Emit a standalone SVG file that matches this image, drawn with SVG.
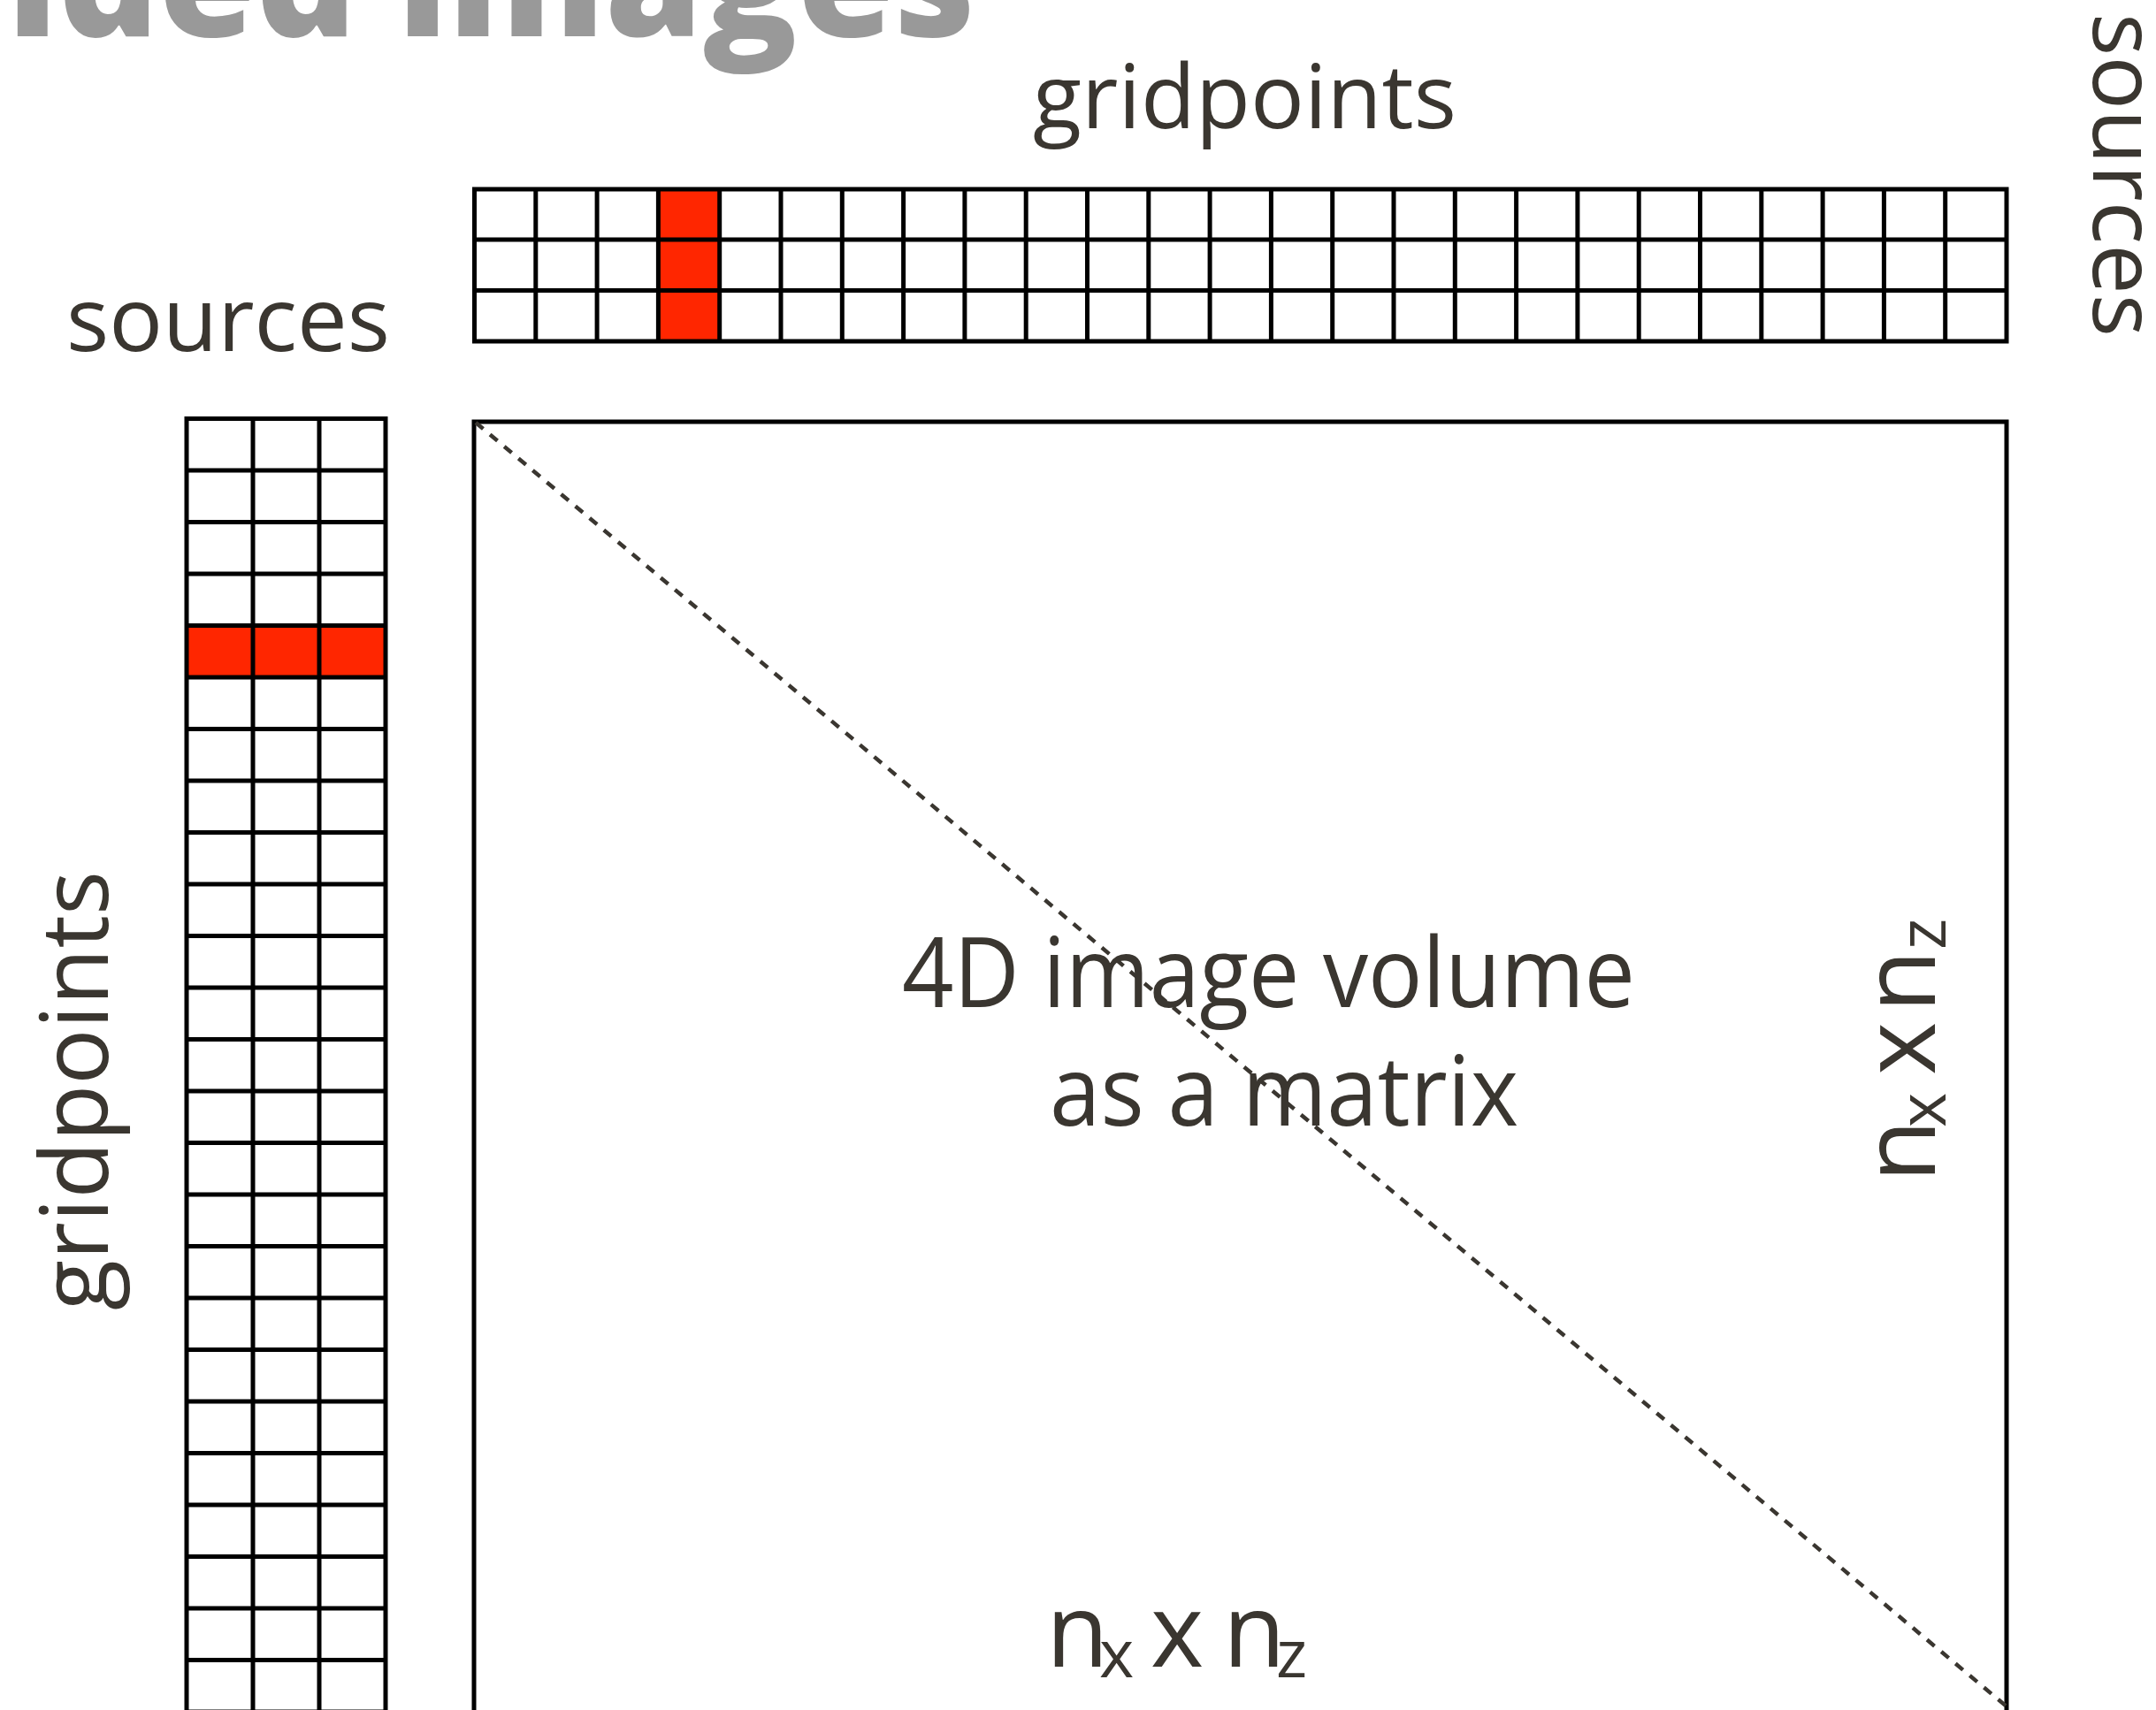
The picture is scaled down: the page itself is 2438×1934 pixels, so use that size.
<svg xmlns="http://www.w3.org/2000/svg" width="2438" height="1934" viewBox="0 0 2438 1934">
<style>
.t{font-family:"Open Sans","Noto Sans","DejaVu Sans",sans-serif;fill:#3a3630}
.title{font-family:"Open Sans","Noto Sans",sans-serif;font-weight:800;fill:#999999}
.grid{fill:none;stroke:#000;stroke-width:5}
.red{fill:#ff2600}
.diag{fill:none;stroke:#3a3630;stroke-width:4.5;stroke-dasharray:11 10}
</style>
<rect x="0" y="0" width="2438" height="1934" fill="#ffffff"/>
<g id="title">
<text class="title" x="8" y="41" font-size="180" textLength="1095" lengthAdjust="spacingAndGlyphs">ided images</text>
</g>
<g id="top-grid">
<rect class="red" x="744.4" y="214" width="69.3" height="172"/>
<path class="grid" d="M536.5 214H2269V386H536.5Z M536.5 271H2269 M536.5 328.5H2269 M605.8 214V386 M675.1 214V386 M744.4 214V386 M813.7 214V386 M883 214V386 M952.3 214V386 M1021.6 214V386 M1090.9 214V386 M1160.2 214V386 M1229.5 214V386 M1298.8 214V386 M1368.1 214V386 M1437.4 214V386 M1506.7 214V386 M1576 214V386 M1645.3 214V386 M1714.6 214V386 M1783.9 214V386 M1853.2 214V386 M1922.5 214V386 M1991.8 214V386 M2061.1 214V386 M2130.4 214V386 M2199.7 214V386"/>
</g>
<g id="left-grid">
<rect class="red" x="211" y="707.6" width="225" height="58.5"/>
<path class="grid" d="M211 473.6V1940 M286 473.6V1940 M361 473.6V1940 M436 473.6V1940 M208.5 473.6H438.5 M211 532.1H436 M211 590.6H436 M211 649.1H436 M211 707.6H436 M211 766.1H436 M211 824.6H436 M211 883.1H436 M211 941.6H436 M211 1000.1H436 M211 1058.6H436 M211 1117.1H436 M211 1175.6H436 M211 1234.1H436 M211 1292.6H436 M211 1351.1H436 M211 1409.6H436 M211 1468.1H436 M211 1526.6H436 M211 1585.1H436 M211 1643.6H436 M211 1702.1H436 M211 1760.6H436 M211 1819.1H436 M211 1877.6H436 M211 1936.1H436"/>
</g>
<g id="matrix">
<path class="grid" d="M536 1945V477H2269V1945"/>
</g>
<g id="connectors">
<line class="diag" x1="538" y1="478" x2="2269" y2="1930"/>
</g>
<g id="label-top-gridpoints"><text class="t" x="1168" y="145" font-size="100" textLength="479" lengthAdjust="spacingAndGlyphs">gridpoints</text></g>
<g id="label-left-sources"><text class="t" x="75" y="397" font-size="100" textLength="366" lengthAdjust="spacingAndGlyphs">sources</text></g>
<g id="label-right-sources"><text class="t" transform="translate(2367,15) rotate(90)" x="0" y="0" font-size="100" textLength="366" lengthAdjust="spacingAndGlyphs">sources</text></g>
<g id="label-left-gridpoints"><text class="t" transform="translate(122,1482) rotate(-90)" x="0" y="0" font-size="106" textLength="497" lengthAdjust="spacingAndGlyphs">gridpoints</text></g>
<g id="label-center">
<text class="t" x="1020" y="1139" font-size="110" textLength="829" lengthAdjust="spacingAndGlyphs">4D image volume</text>
<text class="t" x="1187" y="1273" font-size="110" textLength="530" lengthAdjust="spacingAndGlyphs">as a matrix</text>
</g>
<g id="label-bottom-size">
<text class="t" font-size="115"><tspan x="1183" y="1885">n</tspan><tspan x="1243" y="1897" font-size="75">x</tspan><tspan x="1301" y="1885">x</tspan><tspan x="1383" y="1885">n</tspan><tspan x="1443" y="1897" font-size="75">z</tspan></text>
</g>
<g id="label-right-size">
<text class="t" transform="translate(2188,0) rotate(-90)" font-size="115"><tspan x="-1337" y="0">n</tspan><tspan x="-1275" y="12" font-size="75">x</tspan><tspan x="-1216" y="0">x</tspan><tspan x="-1145" y="0">n</tspan><tspan x="-1074" y="12" font-size="75">z</tspan></text>
</g>
</svg>
